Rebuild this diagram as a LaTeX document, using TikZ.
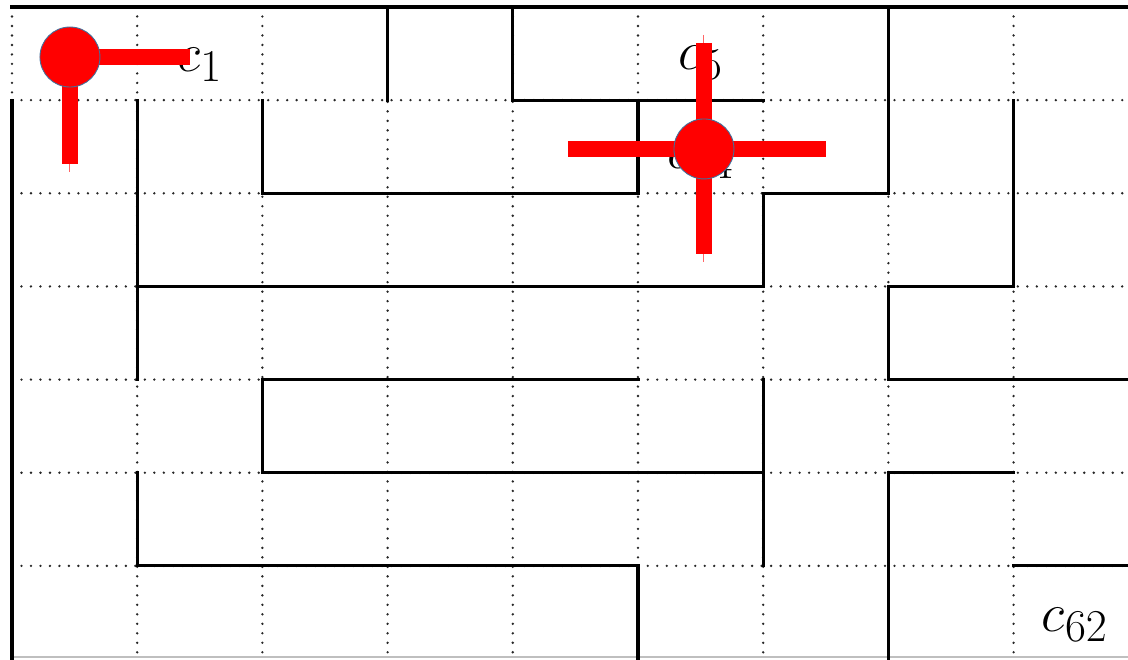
\documentclass[tikz,border=0pt]{standalone}
\usepackage{amsmath}
\usepackage{xcolor}
\usepackage{tikz}
\usetikzlibrary{positioning,calc}
\definecolor{botred}{HTML}{FF0000}
\definecolor{botedge}{HTML}{41719C}

\begin{document}
\begin{tikzpicture}[
  x=2.504cm, y=-1.863cm,
  grid/.style={line width=1.5pt, dash pattern=on 0pt off 5.4pt, line cap=round, color=black!85},
  wall/.style={line width=1.8pt, line cap=rect},
  arm/.style={line width=9pt, color=botred},
  tick/.style={line width=0.6pt, color=botred!60},
  bot/.style={circle, fill=botred, draw=botedge, line width=0.5pt, minimum size=1.2cm, inner sep=0pt},
  cell/.style={font=\Huge, scale=1.25, transform shape, inner sep=0pt}
]
  \fill[white] (-0.0958,-0.0751) rectangle (8.914,7.0);
  \useasboundingbox (-0.0958,-0.0751) rectangle (8.914,7.0);

  % Dotted cell grid
  \foreach \j in {1,...,6} \draw[grid] (0,\j) -- (8.914,\j);
  \foreach \i in {0,...,8} \draw[grid] (\i,0) -- (\i,7);
  \draw[black!25, line width=0.8pt] (0,6.98) -- (8.914,6.98);

  % Maze walls
  \draw[wall] (0,0) -- (8.914,0);
  \draw[wall] (0,1) -- (0,7);
  \draw[wall] (1,4) -- (1,1);
  \draw[wall] (3,0) -- (3,1);
  \draw[wall] (4,0) -- (4,1) -- (6,1);
  \draw[wall] (2,1) -- (2,2) -- (5,2) -- (5,1);
  \draw[wall] (7,0) -- (7,2) -- (6,2) -- (6,3) -- (1,3);
  \draw[wall] (8,1) -- (8,3) -- (7,3) -- (7,4) -- (8.914,4);
  \draw[wall] (5,4) -- (2,4) -- (2,5) -- (6,5);
  \draw[wall] (6,4) -- (6,6);
  \draw[wall] (1,5) -- (1,6) -- (5,6) -- (5,7);
  \draw[wall] (8,5) -- (7,5) -- (7,7);
  \draw[wall] (8,6) -- (8.914,6);

  % Cell labels
  \node[cell] (c0) at (0.47,0.60) {$c_{0}$};
  \node[cell] (c1) at (1.50,0.62) {$c_{1}$};
  \node[cell] (c5) at (5.50,0.60) {$c_{5}$};
  \node[cell] (c14) at (5.50,1.66) {$c_{14}$};
  \node[cell] (c62) at (8.49,6.63) {$c_{62}$};

  % Robot 1
  \coordinate (r1) at (0.463,0.537);
  \coordinate (r1e) at (1.422,0.537);
  \coordinate (r1s) at (0.463,1.685);
  \coordinate (r1t) at (0.463,1.771);
  \draw[tick] (r1) -- (r1t);
  \draw[arm] (r1) -- (r1e);
  \draw[arm] (r1) -- (r1s);
  \node[bot] (robot1) at (r1) {};

  % Robot 2
  \coordinate (r2) at (5.527,1.524);
  \coordinate (r2w) at (4.441,1.524);
  \coordinate (r2e) at (6.502,1.524);
  \coordinate (r2n) at (5.527,0.386);
  \coordinate (r2s) at (5.527,2.652);
  \coordinate (r2nt) at (5.527,0.30);
  \coordinate (r2st) at (5.527,2.738);
  \draw[tick] (r2nt) -- (r2st);
  \draw[arm] (r2w) -- (r2e);
  \draw[arm] (r2n) -- (r2s);
  \node[bot] (robot2) at (r2) {};
\end{tikzpicture}
\end{document}
